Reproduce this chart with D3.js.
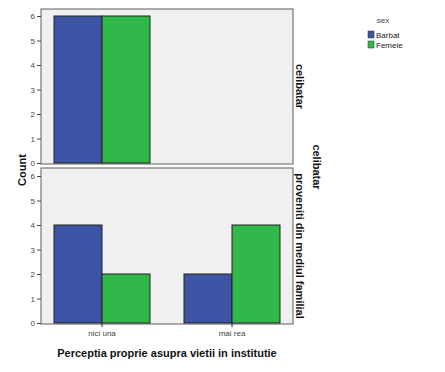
<!DOCTYPE html>
<html>
<head>
<meta charset="utf-8">
<script src="https://cdn.jsdelivr.net/npm/d3@7"></script>
<style>
  body { margin: 0; background: #fff; }
  text { font-family: Arial, "Liberation Sans", sans-serif; }
</style>
</head>
<body>
<div id="chart"></div>
<script>
// data
let categories = ['nici una', 'mai rea'];
let groups = ['Barbat', 'Femeie'];
let rows = ['celibatar', 'proveniti din mediul familial'];
// counts[row][category] = [Barbat, Femeie]
let countsCelibatar = [[6, 6], [0, 0]];
let countsFamilial = [[4, 2], [2, 4]];
let yTicks = [0, 1, 2, 3, 4, 5, 6];
let colors = ['#3d53a3', '#30b94a'];

let w = 445, h = 372;
let left = 41, right = 293;
let panels = [{top: 9, bottom: 164, counts: countsCelibatar},
              {top: 168, bottom: 324, counts: countsFamilial}];

let svg = d3.select('#chart').append('svg').attr('width', w).attr('height', h);

let x = d3.scaleBand().domain(categories).range([37, 297]);
let xInner = d3.scaleBand().domain(groups).range([0, 96]);

panels.forEach(function (p, i) {
  let y = d3.scaleLinear().domain([0, 6]).range([p.bottom - 1, p.bottom - 148]);

  svg.append('rect')
    .attr('x', left).attr('y', p.top)
    .attr('width', right - left).attr('height', p.bottom - p.top)
    .attr('fill', '#f0f0f0').attr('stroke', '#777').attr('stroke-width', 1.2);

  let bars = [];
  categories.forEach(function (c, ci) {
    groups.forEach(function (g, gi) {
      bars.push({cat: c, grp: g, gi: gi, val: p.counts[ci][gi]});
    });
  });

  svg.append('g').selectAll('rect')
    .data(bars.filter(d => d.val > 0))
    .enter().append('rect')
    .attr('x', d => x(d.cat) + x.bandwidth() / 2 - 48 + xInner(d.grp))
    .attr('y', d => y(d.val))
    .attr('width', xInner.bandwidth())
    .attr('height', d => y(0) - y(d.val))
    .attr('fill', d => colors[d.gi])
    .attr('stroke', '#222').attr('stroke-width', 1);

  let yAxis = d3.axisLeft(y).tickValues(yTicks).tickFormat(d3.format('d')).tickSize(4).tickPadding(2);
  let ga = svg.append('g').attr('transform', 'translate(' + left + ',0)').call(yAxis);
  ga.select('.domain').remove();
  ga.selectAll('.tick line').attr('stroke', '#444');
  ga.selectAll('.tick text').attr('font-size', 8).attr('fill', '#444')
    .attr('font-family', 'Arial, Liberation Sans, sans-serif');

  // strip label
  let cy = (p.top + p.bottom) / 2;
  svg.append('text')
    .text(rows[i])
    .attr('x', 296).attr('y', cy)
    .attr('transform', 'rotate(90,296,' + cy + ')')
    .attr('text-anchor', 'middle')
    .attr('font-size', 11).attr('font-weight', 'bold').attr('fill', '#111');
});

// x ticks on bottom panel
let xAxis = d3.axisBottom(x).tickSize(4).tickPadding(3);
let gx = svg.append('g').attr('transform', 'translate(0,323)').call(xAxis);
gx.select('.domain').remove();
gx.selectAll('.tick line').attr('stroke', '#222');
gx.selectAll('.tick text').attr('font-size', 8).attr('fill', '#444')
  .attr('font-family', 'Arial, Liberation Sans, sans-serif');

// outer row title
svg.append('text')
  .text('celibatar')
  .attr('x', 313).attr('y', 167)
  .attr('transform', 'rotate(90,313,167)')
  .attr('text-anchor', 'middle')
  .attr('font-size', 11).attr('font-weight', 'bold').attr('fill', '#111');

// axis titles
svg.append('text')
  .text('Count')
  .attr('x', 26).attr('y', 170)
  .attr('transform', 'rotate(-90,26,170)')
  .attr('text-anchor', 'middle')
  .attr('font-size', 11).attr('font-weight', 'bold').attr('fill', '#111');

svg.append('text')
  .text('Perceptia proprie asupra vietii in institutie')
  .attr('x', 167).attr('y', 357)
  .attr('text-anchor', 'middle')
  .attr('font-size', 11).attr('font-weight', 'bold').attr('fill', '#111');

// legend
svg.append('text').text('sex')
  .attr('x', 383).attr('y', 23).attr('text-anchor', 'middle')
  .attr('font-size', 8).attr('fill', '#444');

let lg = svg.append('g').selectAll('g').data(groups).enter().append('g')
  .attr('transform', (d, i) => 'translate(368,' + (31 + i * 10) + ')');
lg.append('rect').attr('width', 6).attr('height', 7)
  .attr('fill', (d, i) => colors[i]).attr('stroke', '#333').attr('stroke-width', 0.5);
lg.append('text').text(d => d).attr('x', 8).attr('y', 6.5)
  .attr('font-size', 8).attr('fill', '#222');
</script>
</body>
</html>
